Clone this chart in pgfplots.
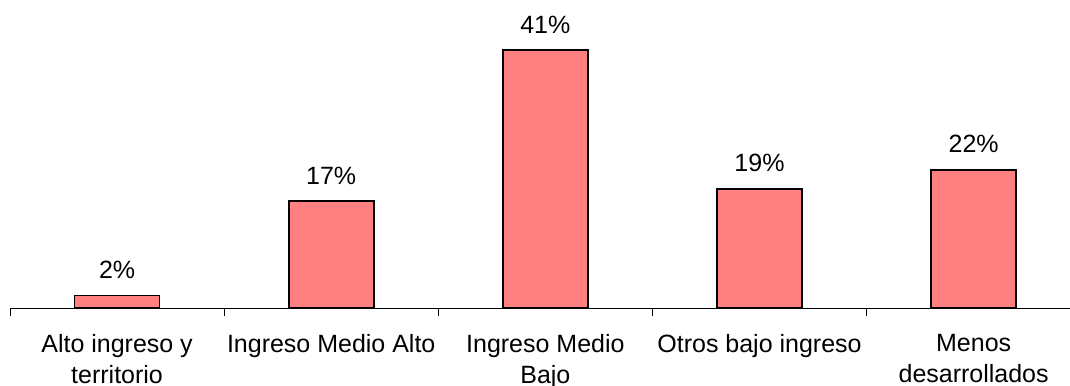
\documentclass[border=0pt]{standalone}
\usepackage{pgfplots}
\pgfplotsset{compat=1.18}
\usepackage{fontspec}
\setmainfont{Liberation Sans}
\definecolor{barfill}{HTML}{FF8080}
\begin{document}
\fontsize{25}{30.5}\selectfont
\begin{tikzpicture}
\useasboundingbox (-10pt,-77pt) rectangle (1060.3pt,308.2pt);
\begin{axis}[
  at={(0,0)}, anchor=south west,
  scale only axis, width=1060.3pt, height=308.2pt,
  xmin=-0.5, xmax=4.45, ymin=0, ymax=49,
  axis x line*=bottom, axis y line=none,
  xtick={0,1,2,3,4},
  xticklabels={{Alto ingreso y\\territorio},{Ingreso Medio Alto},{Ingreso Medio\\Bajo},{Otros bajo ingreso},{Menos\\desarrollados}},
  major tick length=0pt,
  minor xtick={-0.5,0.5,1.5,2.5,3.5},
  minor tick length=8pt, tick align=outside,
  every tick/.style={black, line width=0.8pt},
  x axis line style={line width=0.8pt, black},
  x tick label style={align=center, font=\fontsize{25}{30.5}\selectfont, yshift=-18pt},
  /pgf/number format/assume math mode=true,
  ybar, bar width=85pt,
  nodes near coords={\pgfmathprintnumber{\pgfplotspointmeta}\%},
  every node near coord/.append style={font=\fontsize{25}{30.5}\selectfont, inner sep=0pt, text depth=0pt, yshift=16pt, black},
  clip=false
]
\addplot[fill=barfill, draw=black, line width=1.8pt] coordinates {(0,2) (1,17) (2,41) (3,19) (4,22)};
\end{axis}
\end{tikzpicture}
\end{document}
